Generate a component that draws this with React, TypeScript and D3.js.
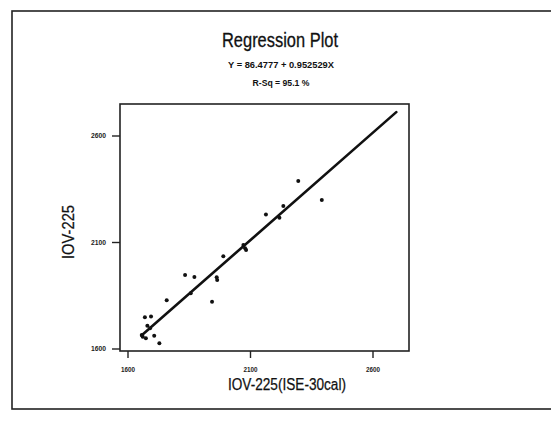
import React from 'react';
import * as d3 from 'd3';

// values
const obsX = [2295, 2391, 2163, 2234, 2218, 2071, 2078, 2082, 1989, 1833, 1871, 1962, 1964, 1856, 1943, 1758, 1669, 1694, 1679, 1690, 1656, 1660, 1673, 1707, 1728];
const obsY = [2389, 2300, 2232, 2271, 2216, 2088, 2073, 2065, 2035, 1947, 1938, 1937, 1924, 1862, 1822, 1829, 1749, 1752, 1709, 1697, 1666, 1658, 1650, 1662, 1627];
// fitted line as drawn (end points)
const fitX = [1655, 2695];
const fitY = [1663, 2712];
const xTicks = [1600, 2100, 2600];
const yTicks = [1600, 2100, 2600];

const title = 'Regression Plot';
const equation = 'Y = 86.4777 + 0.952529X';
const rsq = 'R-Sq = 95.1 %';
const xLabel = 'IOV-225(ISE-30cal)';
const yLabel = 'IOV-225';

const W = 551;
const H = 421;
const frame = { left: 120, right: 409, top: 104, bottom: 351 };
const font = '"Liberation Sans", Arial, sans-serif';

export default function App() {
  // x: 1600 -> 128px, 2600 -> 373px ; y: 1600 -> 349px, 2600 -> 136px
  const x = d3.scaleLinear().domain([1600, 2600]).range([128, 373]);
  const y = d3.scaleLinear().domain([1600, 2600]).range([349, 136]);

  const line = d3.line<number>()
    .x((d) => x(d))
    .y((d, i) => y(fitY[i]));

  return (
    <svg width={W} height={H} style={{ position: 'absolute', left: 0, top: 0, background: '#fff' }}>
      {/* page border */}
      <rect x={12} y={11} width={W} height={398} fill="none" stroke="#222" strokeWidth={1.6} />

      {/* titles */}
      <text x={280} y={47} textAnchor="middle" fontFamily={font} fontSize={20}
        stroke="#111" strokeWidth={0.3}
        textLength={116} lengthAdjust="spacingAndGlyphs" fill="#111">{title}</text>
      <text x={281} y={68} textAnchor="middle" fontFamily={font} fontSize={8.5} fontWeight={600}
        textLength={106} lengthAdjust="spacingAndGlyphs" fill="#111">{equation}</text>
      <text x={281} y={86} textAnchor="middle" fontFamily={font} fontSize={8.5} fontWeight={600}
        textLength={57} lengthAdjust="spacingAndGlyphs" fill="#111">{rsq}</text>

      {/* plot frame */}
      <rect x={frame.left} y={frame.top} width={frame.right - frame.left} height={frame.bottom - frame.top}
        fill="none" stroke="#222" strokeWidth={1.6} />

      {/* y axis ticks */}
      {yTicks.map((t) => (
        <g key={'y' + t}>
          <line x1={112} x2={frame.left} y1={y(t)} y2={y(t)} stroke="#222" strokeWidth={1.4} />
          <text x={106} y={y(t) + 2.2} textAnchor="end" fontFamily={font} fontSize={6.5} fontWeight={700}
            textLength={15} lengthAdjust="spacingAndGlyphs" fill="#222">{t}</text>
        </g>
      ))}

      {/* x axis ticks */}
      {xTicks.map((t) => (
        <g key={'x' + t}>
          <line x1={x(t)} x2={x(t)} y1={frame.bottom} y2={358} stroke="#222" strokeWidth={1.4} />
          <text x={x(t)} y={372} textAnchor="middle" fontFamily={font} fontSize={6.5} fontWeight={700}
            textLength={14} lengthAdjust="spacingAndGlyphs" fill="#222">{t}</text>
        </g>
      ))}

      {/* axis labels */}
      <text x={287} y={390} textAnchor="middle" fontFamily={font} fontSize={16}
        stroke="#111" strokeWidth={0.25}
        textLength={118} lengthAdjust="spacingAndGlyphs" fill="#111">{xLabel}</text>
      <text transform={`translate(74,232) rotate(-90)`} textAnchor="middle" fontFamily={font} fontSize={16}
        stroke="#111" strokeWidth={0.25}
        textLength={54} lengthAdjust="spacingAndGlyphs" fill="#111">{yLabel}</text>

      {/* regression line */}
      <path d={line(fitX) || ''} fill="none" stroke="#111" strokeWidth={2.6} strokeLinecap="round" />

      {/* observations */}
      {obsX.map((v, i) => (
        <circle key={i} cx={x(v)} cy={y(obsY[i])} r={2} fill="#111" />
      ))}
    </svg>
  );
}
